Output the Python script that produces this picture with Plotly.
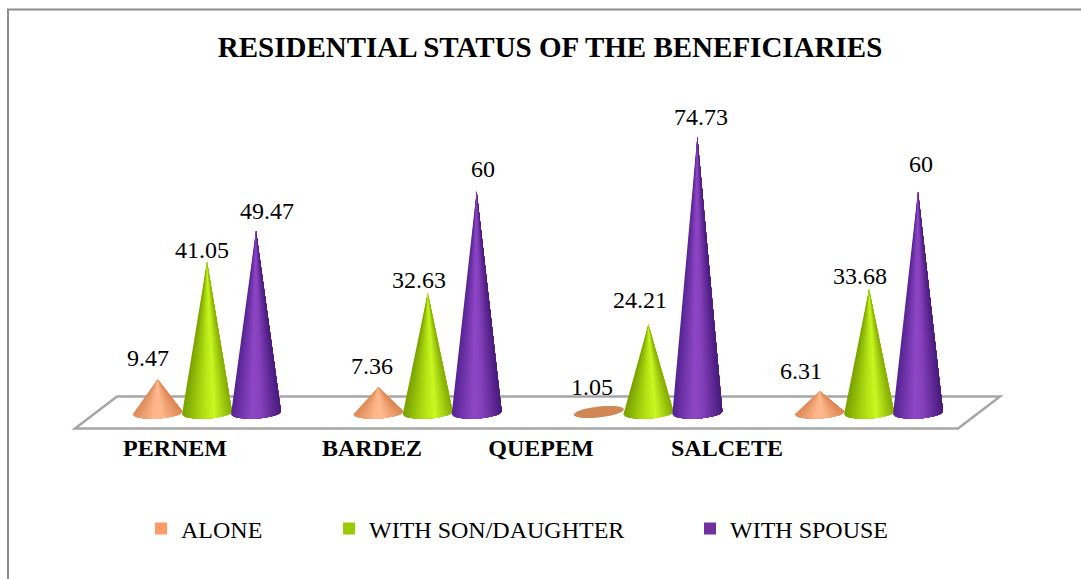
import math
import plotly.graph_objects as go

# ---- data ----
districts = ["PERNEM", "BARDEZ", "QUEPEM", "SALCETE"]
series_names = ["ALONE", "WITH SON/DAUGHTER", "WITH SPOUSE"]
alone = [9.47, 7.36, 1.05, 6.31]
with_son_daughter = [41.05, 32.63, 24.21, 33.68]
with_spouse = [49.47, 60, 74.73, 60]

# ---- style ----
W, H = 1081, 579
PX_X0, PX_PER_GROUP = 207.0, 220.67     # pixel of group 0 centre, pixels per group
PX_Y0, PX_PER_UNIT = 414.5, 3.72        # pixel of value 0, pixels per value unit
AXIS_PX = 429
FONT = "Liberation Serif"
swatches = ["#ff9966", "#99cc00", "#7030a0"]
shades = [
    [(-1, "#dc8a58"), (-0.2, "#fdb488"), (0.15, "#ffb98e"), (1, "#dd8654")],
    [(-1, "#78a000"), (-0.1, "#b4e414"), (0.3, "#c8f820"), (1, "#84aa04")],
    [(-1, "#552492"), (-0.15, "#8e46c6"), (0.2, "#8640bc"), (1, "#471a7c")],
]
offsets = [-0.2243, 0.0, 0.2220]
R_PX, r_PX, BASE_PX, TILT_PX = 25.0, 5.5, 413.0, 1.5
N_BANDS = 24
# label nudges in pixels, per series then per district
label_dx = [[-10, -6, -7, -19], [-5, -9, -8, -9], [11, 6, 4, 3]]
label_dy = [[21, 21, 24, 20], [12, 13, 24, 13], [19, 22, 20, 27]]
tick_pos = [-0.1450, 0.7477, 1.5136, 2.3565]

x_min = -PX_X0 / PX_PER_GROUP
x_max = (W - PX_X0) / PX_PER_GROUP
y_min = -(AXIS_PX - PX_Y0) / PX_PER_UNIT
y_max = PX_Y0 / PX_PER_UNIT
R = R_PX / PX_PER_GROUP
r = r_PX / PX_PER_UNIT
tilt = TILT_PX / PX_PER_UNIT
base = (PX_Y0 - BASE_PX) / PX_PER_UNIT


def hex2rgb(c):
    return tuple(int(c[i:i + 2], 16) for i in (1, 3, 5))


def shade_at(stops, u):
    for (a, ca), (b, cb) in zip(stops, stops[1:]):
        if u <= b:
            t = (u - a) / (b - a)
            pa, pb = hex2rgb(ca), hex2rgb(cb)
            return "rgb(%d,%d,%d)" % tuple(round(p + (q - p) * t) for p, q in zip(pa, pb))
    return stops[-1][1]


def rim(cx, u):
    return cx + R * u, base - r * math.sqrt(max(0, 1 - u * u)) + tilt * u


fig = go.Figure()
all_series = [alone, with_son_daughter, with_spouse]

for s, values in enumerate(all_series):
    cxs = [g + offsets[s] for g in range(len(values))]
    tall = [(c, v) for c, v in zip(cxs, values) if v - base > r]
    flat = [(c, v) for c, v in zip(cxs, values) if v - base <= r]
    for c, v in flat:
        xs, ys = [], []
        for k in range(49):
            a = 2 * math.pi * k / 48
            xs.append(c + R * math.cos(a))
            ys.append(base + 1 / PX_PER_UNIT + r * math.sin(a) + 1.8 * tilt * math.cos(a))
        fig.add_trace(go.Scatter(x=xs, y=ys, mode="none", fill="toself", fillcolor="#d08655",
                                 showlegend=False, hoverinfo="skip"))
    # painted left to right: each band covers everything to its right, so no seams show
    for b in range(N_BANDS):
        u0 = -1 + 2 * b / N_BANDS
        col = shade_at(shades[s], u0 + 1 / N_BANDS)
        xs, ys = [], []
        for c, v in tall:
            xs.append(c)
            ys.append(v)
            for j in range(b, N_BANDS + 1):
                p = rim(c, -1 + 2 * j / N_BANDS)
                xs.append(p[0])
                ys.append(p[1])
            xs += [c, None]
            ys += [v, None]
        fig.add_trace(go.Scatter(x=xs, y=ys, mode="none", fill="toself", fillcolor=col,
                                 showlegend=False, hoverinfo="skip"))

# native legends, one per series, so each entry can sit where the reference has it
legend_left = [141, 329, 690]
layout_legends = {}
for s, name in enumerate(series_names):
    key = "legend" if s == 0 else f"legend{s + 1}"
    fig.add_trace(go.Scatter(x=[None], y=[None], mode="markers", name=name, legend=key,
                             marker=dict(symbol="square", size=12, color=swatches[s])))
    layout_legends[key] = dict(x=legend_left[s] / W, xanchor="left",
                               y=(AXIS_PX - 529) / AXIS_PX, yanchor="middle",
                               bgcolor="rgba(0,0,0,0)", borderwidth=0,
                               font=dict(family=FONT, size=24, color="#000000"))

annotations = []
for s, values in enumerate(all_series):
    for g, v in enumerate(values):
        annotations.append(dict(x=g + offsets[s], y=v, xref="x", yref="y", text=f"{v:g}",
                                showarrow=False, xanchor="center", yanchor="middle",
                                xshift=label_dx[s][g], yshift=label_dy[s][g],
                                font=dict(family=FONT, size=24, color="#000000")))


def px(x):
    return x / W


def py(y):
    return (AXIS_PX - y) / AXIS_PX


line_grey = dict(color="#a6a6a6", width=2.5)
frame = dict(color="#8c8c8c", width=2)
shapes = [
    dict(type="path", xref="paper", yref="paper", layer="below", line=line_grey,
         path=f"M {px(75)} {py(428.5)} L {px(958)} {py(428.5)} L {px(1000)} {py(396.5)} L {px(117)} {py(396.5)} Z"),
    dict(type="path", xref="paper", yref="paper", layer="below", line=frame,
         path=f"M {px(8)} {py(579)} L {px(8)} {py(9.5)} L {px(1081)} {py(9.5)}"),
]

fig.update_layout(
    width=W, height=H,
    margin=dict(l=0, r=0, t=0, b=H - AXIS_PX, autoexpand=False),
    paper_bgcolor="white", plot_bgcolor="rgba(0,0,0,0)",
    title=dict(text="<b>RESIDENTIAL STATUS OF THE BENEFICIARIES</b>", x=550 / W, xanchor="center",
               y=1 - 47 / H, yanchor="middle", font=dict(family=FONT, size=29, color="#000000")),
    xaxis=dict(range=[x_min, x_max], tickmode="array", tickvals=tick_pos,
               ticktext=[f"<b>{d}</b>" for d in districts], ticks="", showgrid=False, zeroline=False,
               showline=False, ticklabelstandoff=2,
               tickfont=dict(family=FONT, size=24, color="#000000"), fixedrange=True),
    yaxis=dict(range=[y_min, y_max], visible=False, fixedrange=True),
    showlegend=True, shapes=shapes, annotations=annotations, **layout_legends,
)
fig.write_html("out.html", config={"displayModeBar": False},
               post_script="document.body.style.margin='0';document.body.style.overflow='hidden';")
